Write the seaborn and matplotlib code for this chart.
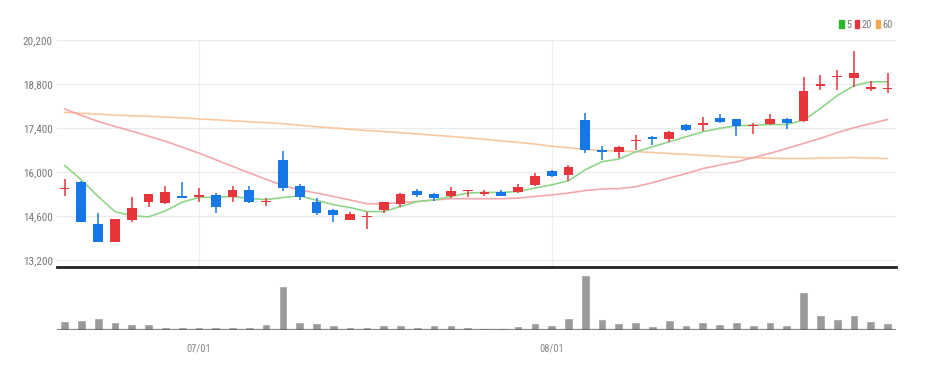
import numpy as np
import pandas as pd
import matplotlib
matplotlib.use("Agg")
import matplotlib.pyplot as plt
import seaborn as sns
from matplotlib.patches import Patch

# -----------------------------
# DATA
# -----------------------------

opens = [15450, 15680, 14340, 13760, 14480, 15050, 15000, 15240, 15220, 15270,
         15220, 15430, 15040, 16380, 15570, 15030, 14800, 14480, 14570, 14800,
         14980, 15400, 15300, 15250, 15400, 15310, 15350, 15350, 15600, 16020,
         15910, 17650, 16710, 16640, 16980, 17120, 17050, 17490, 17510, 17720,
         17680, 17460, 17520, 17680, 17630, 18750, 19020, 19000, 18650, 18640]
closes = [15500, 14420, 13760, 14500, 14870, 15300, 15350, 15170, 15250, 14900,
          15430, 15050, 15080, 15490, 15190, 14690, 14640, 14660, 14590, 15030,
          15300, 15270, 15170, 15410, 15420, 15340, 15240, 15510, 15880, 15860,
          16150, 16710, 16640, 16800, 17000, 17040, 17280, 17330, 17530, 17580,
          17470, 17480, 17700, 17550, 18580, 18780, 19040, 19140, 18670, 18670]
highs = [15780, 15700, 14710, 14520, 15190, 15310, 15570, 15680, 15490, 15320,
         15570, 15570, 15170, 16660, 15630, 15170, 14820, 14720, 14740, 15050,
         15320, 15450, 15330, 15510, 15440, 15440, 15440, 15620, 15970, 16050,
         16210, 17880, 16840, 16820, 17170, 17130, 17300, 17520, 17760, 17860,
         17700, 17550, 17830, 17720, 19030, 19080, 19240, 19850, 18900, 19140]
lows = [15240, 14400, 13760, 13760, 14400, 14900, 14990, 15160, 15060, 14710,
        15060, 15000, 14930, 15410, 15110, 14640, 14400, 14460, 14190, 14710,
        14900, 15220, 15090, 15170, 15220, 15250, 15230, 15330, 15560, 15830,
        15700, 16620, 16390, 16450, 16700, 16850, 16940, 17310, 17300, 17560,
        17140, 17200, 17480, 17360, 17600, 18610, 18610, 18690, 18590, 18500]

ma5 = [16210, 15750, 15220, 14740, 14610, 14570, 14760, 15040, 15190, 15200,
       15220, 15160, 15120, 15190, 15240, 15100, 14960, 14870, 14740, 14740,
       14900, 15060, 15110, 15220, 15330, 15350, 15350, 15380, 15490, 15590,
       15720, 16070, 16330, 16410, 16640, 16800, 16960, 17120, 17280, 17390,
       17470, 17490, 17510, 17510, 17650, 18020, 18430, 18750, 18870, 18870]
ma20 = [18010, 17800, 17610, 17450, 17300, 17140, 16980, 16790, 16600, 16390,
        16180, 15970, 15770, 15570, 15430, 15330, 15220, 15110, 14990, 14990,
        15030, 15060, 15110, 15150, 15150, 15150, 15150, 15170, 15220, 15270,
        15330, 15410, 15460, 15470, 15530, 15660, 15810, 15950, 16110, 16220,
        16320, 16460, 16590, 16750, 16910, 17070, 17250, 17410, 17540, 17670]
ma60 = [17900, 17870, 17840, 17810, 17790, 17770, 17750, 17720, 17690, 17660,
        17630, 17600, 17570, 17540, 17490, 17440, 17400, 17360, 17320, 17290,
        17250, 17210, 17170, 17130, 17090, 17040, 16990, 16940, 16890, 16820,
        16770, 16720, 16680, 16670, 16650, 16620, 16590, 16560, 16530, 16500,
        16470, 16450, 16440, 16430, 16430, 16440, 16450, 16460, 16440, 16430]

volume = [28, 30, 36, 23, 18, 18, 10, 10, 10, 10,
          10, 10, 18, 131, 23, 20, 14, 10, 10, 14,
          14, 10, 14, 15, 9, 6, 6, 13, 20, 14,
          36, 166, 34, 20, 23, 13, 29, 15, 24, 19,
          25, 15, 24, 15, 114, 44, 34, 44, 28, 20]

price_ticks = [13200, 14600, 16000, 17400, 18800, 20200]
date_labels = {8: "07/01", 29: "08/01"}

df = pd.DataFrame({"open": opens, "close": closes, "high": highs, "low": lows,
                   "ma5": ma5, "ma20": ma20, "ma60": ma60, "volume": volume})
df["idx"] = np.arange(len(df))

# -----------------------------
# STYLE
# -----------------------------

sns.set_style("white")
plt.rcParams['font.family'] = ['Liberation Sans Narrow', 'Roboto Condensed', 'DejaVu Sans']

UP = "#e8343b"
DOWN = "#1677e6"
C5, C20, C60 = "#8fd68a", "#f4a7ad", "#f8c8a0"

fig = plt.figure(figsize=(9.26, 3.71), dpi=100)
ax = fig.add_axes([57 / 926, 1 - 267 / 371, 839 / 926, 227 / 371])
axv = fig.add_axes([57 / 926, 1 - 330 / 371, 839 / 926, 58 / 371])

# -----------------------------
# PRICE PANEL
# -----------------------------

for yt in price_ticks:
    ax.axhline(yt, color="#ebebeb", lw=0.9, zorder=0)
for i in date_labels:
    ax.axvline(i, color="#f0f0f0", lw=0.9, zorder=0)

sns.lineplot(data=df, x="idx", y="ma60", color=C60, lw=1.2, ax=ax, zorder=2)
sns.lineplot(data=df, x="idx", y="ma20", color=C20, lw=1.2, ax=ax, zorder=2)
sns.lineplot(data=df, x="idx", y="ma5", color=C5, lw=1.2, ax=ax, zorder=2)

up = df["close"] >= df["open"]
colors = np.where(up, UP, DOWN)
ax.vlines(df["idx"], df["low"], df["high"], colors=colors, lw=1.1, zorder=3)
body_lo = np.minimum(df["open"], df["close"])
body_h = np.maximum((df["close"] - df["open"]).abs(), 40)
ax.bar(df["idx"], body_h, bottom=body_lo, width=0.58, color=colors, lw=0, zorder=4)

ax.set_xlim(-0.45, 49.5)
ax.set_ylim(12977, 20200)
ax.set_yticks(price_ticks)
ax.set_yticklabels([f"{v:,}" for v in price_ticks])
ax.set_xticks([])
ax.set_xlabel("")
ax.set_ylabel("")
ax.tick_params(axis="y", length=0, pad=3, labelsize=8, labelcolor="#777777")
for s in ["top", "left", "right"]:
    ax.spines[s].set_visible(False)
ax.spines["bottom"].set_color("#222222")
ax.spines["bottom"].set_linewidth(2)

handles = [Patch(color="#2bb52b", label="5"), Patch(color="#e8343b", label="20"),
           Patch(color="#f5a452", label="60")]
fig.legend(handles=handles, loc="center right", bbox_to_anchor=(897 / 926, 1 - 25 / 371),
           ncol=3, frameon=False, fontsize=7.5, handlelength=0.4, handleheight=0.8,
           handletextpad=0.25, columnspacing=0.35, borderaxespad=0, labelcolor="#777777")

# -----------------------------
# VOLUME PANEL
# -----------------------------

sns.barplot(data=df, x="idx", y="volume", color="#9a9a9a", saturation=1,
            width=0.52, ax=axv, zorder=2)
axv.axhline(0, color="#555555", lw=1.6, alpha=0.7, zorder=3)
axv.set_xlim(-0.45, 49.5)
axv.set_ylim(0, 174)
axv.set_yticks([])
axv.set_xticks(list(date_labels.keys()))
axv.set_xticklabels(list(date_labels.values()))
axv.tick_params(axis="x", length=4, width=0.8, color="#888888", pad=6,
                labelsize=7.5, labelcolor="#888888")
axv.set_xlabel("")
axv.set_ylabel("")
sns.despine(ax=axv, left=True, bottom=True)

fig.savefig("out.png", dpi=100)
